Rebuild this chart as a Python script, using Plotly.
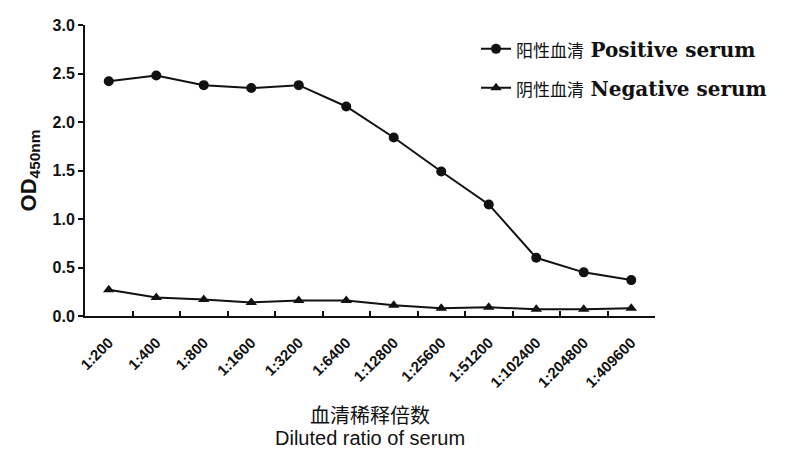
import plotly.graph_objects as go

# Serum dilution series and measured OD450 values
dilutions = ["1:200", "1:400", "1:800", "1:1600", "1:3200", "1:6400", "1:12800",
             "1:25600", "1:51200", "1:102400", "1:204800", "1:409600"]
positive_od = [2.42, 2.48, 2.38, 2.35, 2.38, 2.16, 1.84, 1.49, 1.15, 0.60, 0.45, 0.37]
negative_od = [0.27, 0.19, 0.17, 0.14, 0.16, 0.16, 0.11, 0.08, 0.09, 0.07, 0.07, 0.08]

positive_name = ('<span style="font-family:Noto Sans CJK SC;font-size:17px">阳性血清</span>'
                 ' <b>Positive serum</b>')
negative_name = ('<span style="font-family:Noto Sans CJK SC;font-size:17px">阴性血清</span>'
                 ' <b>Negative serum</b>')

fig = go.Figure()
fig.add_trace(go.Scatter(
    x=dilutions, y=positive_od, name=positive_name, mode="lines+markers",
    legendgroup="pos",
    line=dict(color="#111111", width=2),
    marker=dict(symbol="circle", size=10, color="#111111"),
))
fig.add_trace(go.Scatter(
    x=dilutions, y=negative_od, name=negative_name, mode="lines+markers",
    legendgroup="neg",
    line=dict(color="#111111", width=2),
    marker=dict(symbol="triangle-up", size=10, color="#111111"),
))

fig.update_layout(
    width=787, height=452,
    margin=dict(l=85, r=132, t=25, b=136),
    paper_bgcolor="white", plot_bgcolor="white",
    showlegend=True,
    legend=dict(
        x=0.686, y=0.985, xanchor="left", yanchor="top",
        font=dict(family="DejaVu Serif", size=20, color="#111111"),
        bgcolor="rgba(0,0,0,0)", tracegroupgap=10,
    ),
    xaxis=dict(
        type="category", range=[-0.5, 11.5],
        showline=True, linecolor="#111111", linewidth=2,
        ticks="inside", ticklen=5, tickwidth=1.5, tickcolor="#111111",
        tickson="boundaries", tickangle=-45, ticklabelstandoff=10,
        tickfont=dict(family="Liberation Sans", size=15, weight="bold", color="#111111"),
        showgrid=False, zeroline=False,
    ),
    yaxis=dict(
        range=[0, 3.0], dtick=0.5, tickformat=".1f",
        showline=True, linecolor="#111111", linewidth=2,
        ticks="outside", ticklen=5, tickwidth=1.5, tickcolor="#111111",
        tickfont=dict(family="Liberation Sans", size=16, weight="bold", color="#111111"),
        showgrid=False, zeroline=False,
        title=dict(text="<b>OD<sub>450nm</sub></b>",
                   font=dict(family="Liberation Sans", size=22, color="#111111"),
                   standoff=10),
    ),
    annotations=[
        dict(text="血清稀释倍数", xref="paper", yref="paper", x=0.5, y=-0.34,
             showarrow=False, xanchor="center", yanchor="middle",
             font=dict(family="Noto Sans CJK SC", size=20, color="#111111")),
        dict(text="Diluted ratio of serum", xref="paper", yref="paper", x=0.5, y=-0.418,
             showarrow=False, xanchor="center", yanchor="middle",
             font=dict(family="Liberation Sans", size=20, color="#111111")),
    ],
)

fig.write_html("out.html")
